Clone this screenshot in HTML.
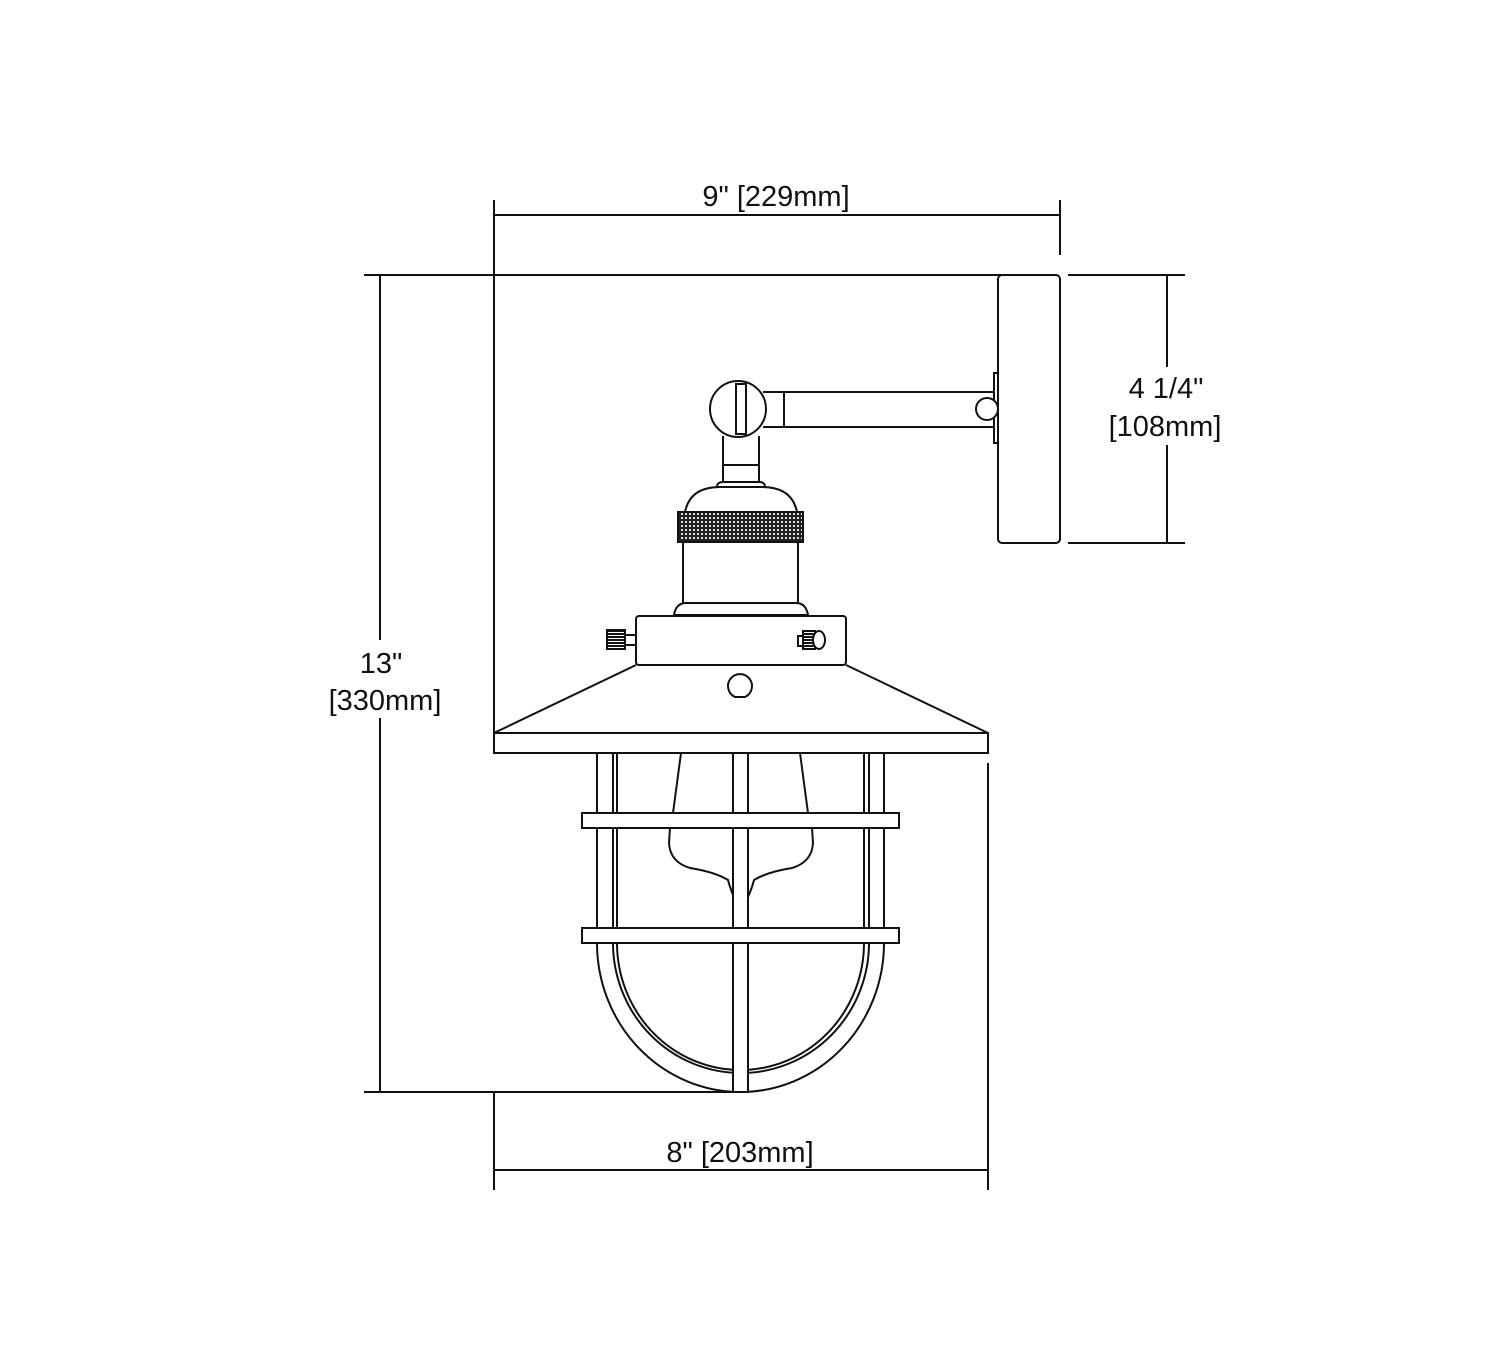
<!DOCTYPE html>
<html><head><meta charset="utf-8"><style>
html,body{margin:0;padding:0;background:#fff;}
svg{display:block;}
text{font-family:"Liberation Sans",Arial,sans-serif;font-size:29px;fill:#111;}
</style></head><body>
<svg width="1500" height="1368" viewBox="0 0 1500 1368" xmlns="http://www.w3.org/2000/svg">
<defs>
<pattern id="knurl" width="4" height="4" patternUnits="userSpaceOnUse">
<rect width="4" height="4" fill="#222"/><rect x="1" y="1" width="2" height="2" fill="#ddd"/>
</pattern>
<pattern id="ridge" width="3" height="3" patternUnits="userSpaceOnUse">
<rect width="3" height="3" fill="#fff"/><rect width="3" height="2" fill="#111"/>
</pattern>
</defs>
<g fill="none" stroke="#111" stroke-width="2">
<line x1="494" y1="200" x2="494" y2="733"/>
<line x1="1060" y1="200" x2="1060" y2="255"/>
<line x1="494" y1="215" x2="1060" y2="215"/>
<line x1="364" y1="275" x2="1005" y2="275"/>
<line x1="1068" y1="275" x2="1185" y2="275"/>
<line x1="1068" y1="543" x2="1185" y2="543"/>
<line x1="1167" y1="275" x2="1167" y2="543"/>
<line x1="380" y1="275" x2="380" y2="1092"/>
<line x1="364" y1="1092" x2="740" y2="1092"/>
<line x1="494" y1="1092" x2="494" y2="1190"/>
<line x1="988" y1="763" x2="988" y2="1190"/>
<line x1="494" y1="1170" x2="988" y2="1170"/>

<rect x="998" y="275" width="62" height="268" rx="4"/>
<rect x="994" y="373" width="4" height="70"/>
<line x1="763" y1="392" x2="995" y2="392"/>
<line x1="763" y1="427" x2="995" y2="427"/>
<line x1="784" y1="392" x2="784" y2="427"/>
<circle cx="987" cy="409" r="11" fill="#fff"/>
<circle cx="738" cy="409" r="28" fill="#fff"/>
<rect x="736" y="384" width="10" height="50"/>
<path d="M723 436 V482 M759 436 V482 M723 465 H759" />
<path d="M717 487 Q717 482 723 482 H759 Q765 482 765 487 Z" fill="#fff"/>
<path d="M685 512 Q690 487 720 487 H762 Q792 487 797 512"/>
<rect x="678" y="512" width="125" height="30" fill="url(#knurl)"/>
<path d="M683 542 V603 M798 542 V603"/>
<path d="M674 615 Q676 603 686 603 H796 Q806 603 808 615 Z"/>
<rect x="636" y="616" width="210" height="49" rx="3" fill="#fff"/>
<rect x="625" y="635" width="11" height="10"/>
<rect x="607" y="630" width="18" height="19" fill="url(#ridge)"/>
<rect x="798" y="636" width="6" height="10"/>
<rect x="803" y="631" width="12" height="18" fill="url(#ridge)"/>
<ellipse cx="819" cy="640" rx="6" ry="9" fill="#fff"/>
<path d="M636 665 L494 733 H988 L846 665"/>
<rect x="494" y="733" width="494" height="20" fill="#fff"/>
<path d="M735 697 A12 12 0 1 1 745 697 Z"/>
<path d="M681 753 L673 813 M800 753 L808 813"/>
<path d="M670 828 L669 843 Q670 862 690 868 Q715 872 728 880 Q730 888 734 897 M812 828 L813 843 Q812 862 792 868 Q767 872 754 880 Q752 888 748 897"/>
<path d="M597 943 A143.5 149 0 0 0 884 943"/>
<path d="M613 943 A128 130 0 0 0 869 943"/>
<path d="M617 943 A123.5 127 0 0 0 864 943"/>
<path d="M597 753 V943 M613 753 V943 M617 753 V943 M864 753 V943 M869 753 V943 M884 753 V943"/>
<rect x="733" y="753" width="15" height="339" fill="#fff"/>
<rect x="582" y="813" width="317" height="15" fill="#fff"/>
<rect x="582" y="928" width="317" height="15" fill="#fff"/>
</g>
<g fill="#fff">
<rect x="325" y="640" width="120" height="78"/>
<rect x="1105" y="367" width="122" height="78"/>
</g>
<g text-anchor="middle">
<text x="776" y="206">9" [229mm]</text>
<text x="381" y="673">13"</text>
<text x="385" y="710">[330mm]</text>
<text x="1166" y="398">4 1/4"</text>
<text x="1165" y="436">[108mm]</text>
<text x="740" y="1162">8" [203mm]</text>
</g>
</svg>
</body></html>
